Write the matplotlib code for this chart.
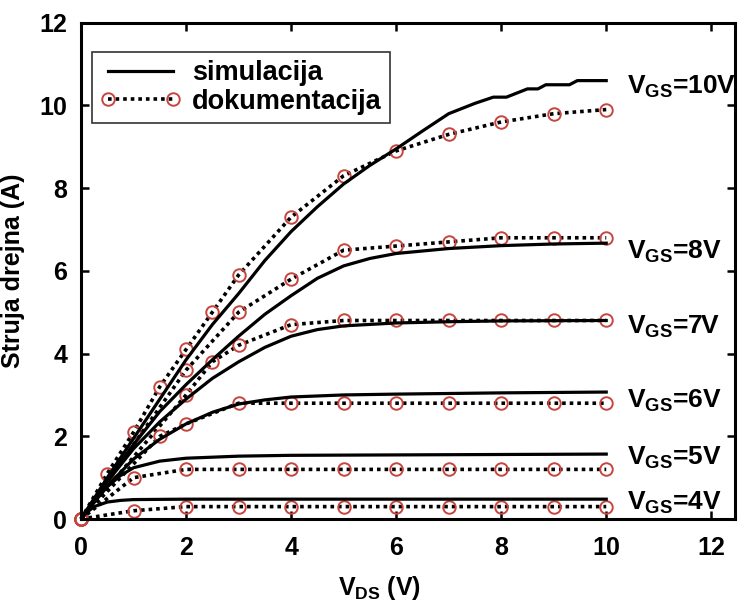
import matplotlib
matplotlib.use("Agg")
import matplotlib.pyplot as plt

plt.rcParams['font.family'] = ['Liberation Sans', 'DejaVu Sans']
plt.rcParams['font.weight'] = 'bold'
plt.rcParams['mathtext.fontset'] = 'custom'
plt.rcParams['mathtext.rm'] = 'Liberation Sans:bold'
plt.rcParams['mathtext.it'] = 'Liberation Sans:bold'
plt.rcParams['mathtext.bf'] = 'Liberation Sans:bold'

# simulation curves (solid)
sim4_x = [0, 0.1, 0.25, 0.5, 0.75, 1, 2, 4, 6, 8, 10]
sim4_y = [0, 0.15, 0.3, 0.41, 0.45, 0.47, 0.48, 0.48, 0.48, 0.48, 0.48]
sim5_x = [0, 0.25, 0.5, 0.75, 1, 1.5, 2, 3, 4, 6, 8, 10]
sim5_y = [0, 0.42, 0.78, 1.05, 1.24, 1.4, 1.47, 1.52, 1.54, 1.55, 1.56, 1.57]
sim6_x = [0, 0.5, 1, 1.5, 2, 2.5, 3, 3.5, 4, 5, 6, 8, 10]
sim6_y = [0, 0.8, 1.45, 1.93, 2.3, 2.58, 2.78, 2.88, 2.95, 3.0, 3.02, 3.05, 3.07]
sim7_x = [0, 0.5, 1, 1.5, 2, 2.5, 3, 3.5, 4, 4.5, 5, 6, 7, 8, 10]
sim7_y = [0, 0.9, 1.7, 2.35, 2.9, 3.4, 3.8, 4.15, 4.42, 4.58, 4.67, 4.74, 4.77, 4.79, 4.8]
sim8_x = [0, 0.5, 1, 1.5, 2, 2.5, 3, 3.5, 4, 4.5, 5, 5.5, 6, 7, 8, 9, 10]
sim8_y = [0, 0.95, 1.8, 2.6, 3.25, 3.85, 4.42, 4.95, 5.4, 5.82, 6.12, 6.3, 6.42, 6.54, 6.61, 6.65, 6.67]
sim10_x = [0, 0.5, 1, 1.5, 2, 2.5, 3, 3.5, 4, 4.5, 5, 5.5, 6, 6.5, 7, 7.5,
           7.85, 8.1, 8.3, 8.5, 8.7, 8.85, 9.3, 9.45, 10]
sim10_y = [0, 1.0, 1.95, 2.9, 3.85, 4.7, 5.45, 6.25, 6.95, 7.55, 8.1, 8.55, 8.95, 9.38, 9.8, 10.05,
           10.2, 10.2, 10.3, 10.4, 10.4, 10.5, 10.5, 10.6, 10.6]

# datasheet points (dotted + circles)
doc4_x = [0, 1, 2, 3, 4, 5, 6, 7, 8, 9, 10]
doc4_y = [0, 0.2, 0.3, 0.3, 0.3, 0.3, 0.3, 0.3, 0.3, 0.3, 0.3]
doc5_x = [0, 1, 2, 3, 4, 5, 6, 7, 8, 9, 10]
doc5_y = [0, 1.0, 1.2, 1.2, 1.2, 1.2, 1.2, 1.2, 1.2, 1.2, 1.2]
doc6_x = [0, 1.5, 2, 3, 4, 5, 6, 7, 8, 9, 10]
doc6_y = [0, 2.0, 2.3, 2.8, 2.8, 2.8, 2.8, 2.8, 2.8, 2.8, 2.8]
doc7_x = [0, 2, 2.5, 3, 4, 5, 6, 7, 8, 9, 10]
doc7_y = [0, 3.0, 3.8, 4.2, 4.7, 4.8, 4.8, 4.8, 4.8, 4.8, 4.8]
doc8_x = [0, 2, 3, 4, 5, 6, 7, 8, 9, 10]
doc8_y = [0, 3.6, 5.0, 5.8, 6.5, 6.6, 6.7, 6.8, 6.8, 6.8]
doc10_x = [0, 0.5, 1, 1.5, 2, 2.5, 3, 4, 5, 6, 7, 8, 9, 10]
doc10_y = [0, 1.1, 2.1, 3.2, 4.1, 5.0, 5.9, 7.3, 8.3, 8.9, 9.3, 9.6, 9.8, 9.9]

vgs_labels = ['$\\mathrm{V_{GS}}$=10V', '$\\mathrm{V_{GS}}$=8V', '$\\mathrm{V_{GS}}$=7V',
              '$\\mathrm{V_{GS}}$=6V', '$\\mathrm{V_{GS}}$=5V', '$\\mathrm{V_{GS}}$=4V']
vgs_label_y = [10.29, 6.3, 4.49, 2.7, 1.3, 0.22]

sims = [(sim10_x, sim10_y), (sim8_x, sim8_y), (sim7_x, sim7_y),
        (sim6_x, sim6_y), (sim5_x, sim5_y), (sim4_x, sim4_y)]
docs = [(doc10_x, doc10_y), (doc8_x, doc8_y), (doc7_x, doc7_y),
        (doc6_x, doc6_y), (doc5_x, doc5_y), (doc4_x, doc4_y)]

red = '#c8453f'

fig = plt.figure(figsize=(7.38, 6.04), dpi=100)
ax = fig.add_axes([0.1098, 0.1407, 0.886, 0.8217])

for i, (x, y) in enumerate(docs):
    ax.plot(x, y, color='black', lw=2.6, dashes=(1, 1.1), marker='o', ms=9, mfc='none',
            mec=red, mew=1.4, clip_on=False,
            label='dokumentacija' if i == 0 else None)
for i, (x, y) in enumerate(sims):
    ax.plot(x, y, '-', color='black', lw=2.3,
            label='simulacija' if i == 0 else None)

for lab, yy in zip(vgs_labels, vgs_label_y):
    ax.text(10.4, yy, lab, fontsize=19, fontweight='bold', va='baseline', ha='left')

ax.set_xlim(0, 12.45)
ax.set_ylim(0, 12)
ax.set_xticks([0, 2, 4, 6, 8, 10, 12])
ax.set_yticks([0, 2, 4, 6, 8, 10, 12])
ax.tick_params(direction='in', top=True, right=True, length=6, width=1.8,
               labelsize=18, pad=12)
ax.tick_params(axis='y', pad=10)
for s in ax.spines.values():
    s.set_linewidth(2.2)

ax.set_xlabel('$\\mathrm{V_{DS}}$ (V)', fontsize=18, fontweight='bold')
ax.xaxis.set_label_coords(0.456, -0.11)
ax.set_ylabel('Struja drejna (A)', fontsize=18, fontweight='bold')
ax.yaxis.set_label_coords(-0.085, 0.5)

h, l = ax.get_legend_handles_labels()
leg = ax.legend([h[1], h[0]], [l[1], l[0]], loc='upper left',
                bbox_to_anchor=(0.017, 0.941), borderaxespad=0, fancybox=False,
                edgecolor='black', fontsize=19.5, handlelength=3.0, numpoints=2,
                borderpad=0.3, labelspacing=0.1, handletextpad=0.4)
leg.get_frame().set_linewidth(1.2)

fig.savefig('out.png', dpi=100)
